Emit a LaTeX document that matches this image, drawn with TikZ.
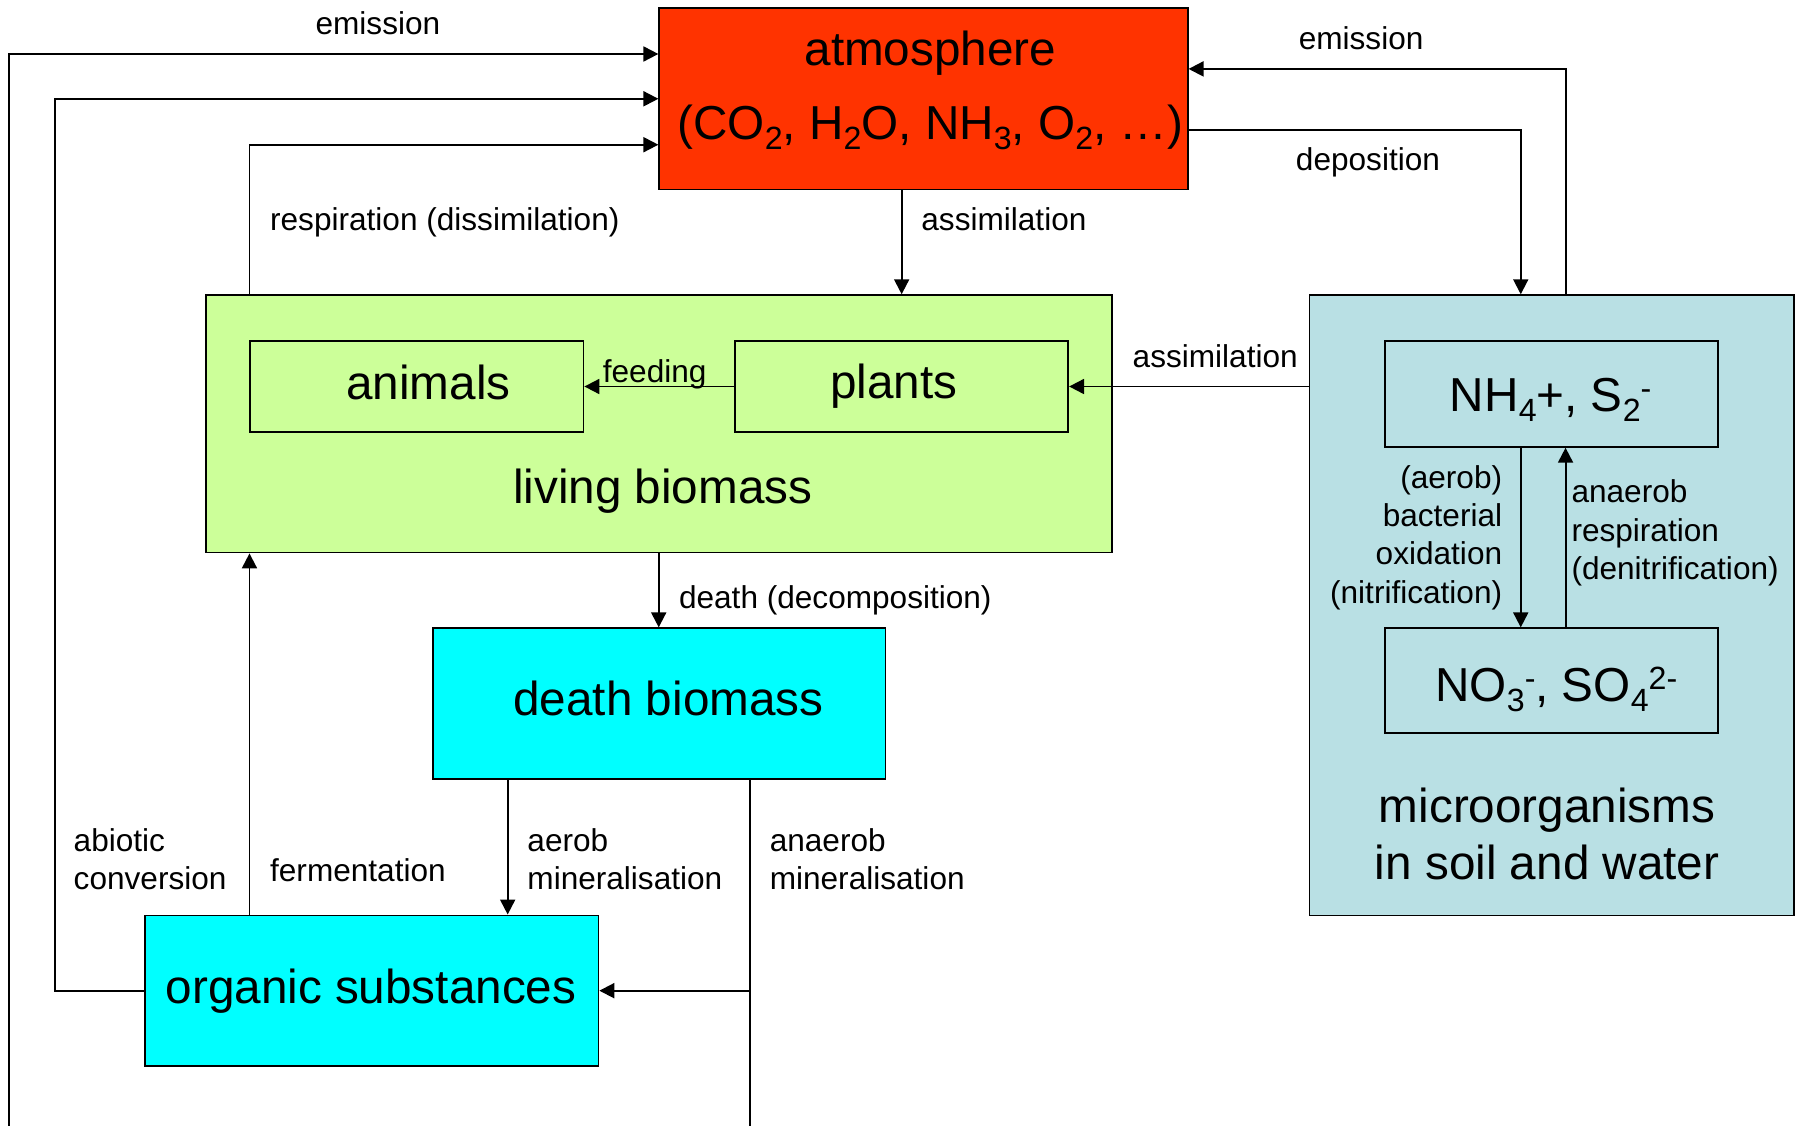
\documentclass[tikz,border=0pt]{standalone}
\usepackage{fontspec}
\setmainfont{Liberation Sans}
\usetikzlibrary{arrows.meta}
\definecolor{atm}{RGB}{255,51,0}
\definecolor{liv}{RGB}{204,255,153}
\definecolor{mic}{RGB}{185,224,228}
\definecolor{cy}{RGB}{0,255,255}
\newcommand{\sbs}[1]{\raisebox{-0.21em}{\fontsize{28}{28}\selectfont #1}}
\newcommand{\sps}[1]{\raisebox{0.25em}{\fontsize{28}{28}\selectfont #1}}
\tikzset{
  box/.style={draw=black, line width=1.6pt, inner sep=0pt, anchor=center},
  conn/.style={line width=1.7pt, -{Triangle[length=13pt,width=13pt]}},
  plain/.style={line width=1.7pt},
  big/.style={font=\fontsize{41.5}{50}\selectfont, inner sep=0pt},
  small/.style={font=\fontsize{27.5}{33.5}\selectfont, inner sep=0pt},
}
\begin{document}
\begin{tikzpicture}[x=1pt,y=-1pt]
\useasboundingbox (0,0) rectangle (1568,980);
% boxes
\node[box, fill=atm, minimum width=460, minimum height=158] (atm) at (804,86) {};
\node[box, fill=liv, minimum width=789, minimum height=224] (liv) at (573.5,369) {};
\node[box, fill=liv, minimum width=290, minimum height=79] (ani) at (363,336.5) {};
\node[box, fill=liv, minimum width=290, minimum height=79] (pla) at (785,336.5) {};
\node[box, fill=mic, minimum width=422, minimum height=540] (mic) at (1351,527) {};
\node[box, fill=mic, minimum width=290, minimum height=92] (nh) at (1351,343) {};
\node[box, fill=mic, minimum width=290, minimum height=91] (no) at (1351,592.5) {};
\node[box, fill=cy, minimum width=394, minimum height=131] (dea) at (574,612.5) {};
\node[box, fill=cy, minimum width=395, minimum height=131] (org) at (323.5,862.5) {};
% box texts
\node[big] (atmT1) at (810,46) {atmosphere};
\node[big] (atmT2) at (810,111) {(CO\sbs{2}, H\sbs{2}O, NH\sbs{3}, O\sbs{2}, \dots)};
\node[big] (aniT) at (373,333) {animals};
\node[big] (plaT) at (778,336) {plants};
\node[big] (livT) at (577,428) {living biomass};
\node[big] (nhT) at (1350,348) {NH\sbs{4}+, S\sbs{2}\sps{-}};
\node[big] (noT) at (1355,600) {NO\sbs{3}\sps{-}, SO\sbs{4}\sps{2-}};
\node[big, align=center, font=\fontsize{41.5}{50}\selectfont] (micT) at (1347,726) {microorganisms\\in soil and water};
\node[big] (deaT) at (582,608) {death biomass};
\node[big] (orgT) at (323,863) {organic substances};
% connection points
\coordinate (eo) at (8,985);
\coordinate (xb) at (48,500);
\coordinate (ab) at (653,985);
\coordinate (r1) at ([xshift=39]liv.north west);
\coordinate (a1) at ([xshift=-19]atm.south);
\coordinate (d1) at ([xshift=-27]mic.north);
\coordinate (e1) at ([xshift=12]mic.north);
\coordinate (n1) at ([xshift=-27]nh.south);
\coordinate (n2) at ([xshift=12]no.north);
\coordinate (m1) at ([xshift=-132]dea.south);
\coordinate (m2) at ([xshift=79]dea.south);
\coordinate (f1) at ([xshift=92]org.north west);
% connectors
\draw[conn] (eo) |- ([yshift=39]atm.west);
\draw[conn] (org.west) -| (xb) |- (atm.west);
\draw[conn] (r1) |- ([yshift=-40]atm.west);
\draw[conn] (a1) -- (a1 |- liv.north);
\draw[conn] ([yshift=-27]atm.east) -| (d1);
\draw[conn] (e1) |- ([yshift=26]atm.east);
\draw[conn] (pla.west) -- (ani.east);
\draw[conn] (mic.west |- pla.east) -- (pla.east);
\draw[conn] (n1) -- (n1 |- no.north);
\draw[conn] (n2) -- (n2 |- nh.south);
\draw[conn] (liv.south) -- (liv.south |- dea.north);
\draw[conn] (m1) -- (m1 |- org.north);
\draw[plain] (m2) -- (ab);
\draw[conn] (ab |- org.east) -- (org.east);
\draw[conn] (f1) -- (f1 |- liv.south);
% labels
\node[small] (lEm1) at (329,20) {emission};
\node[small] (lEm2) at (1185,33) {emission};
\node[small] (lDep) at (1191,141) {deposition};
\node[small, anchor=west] (lRes) at (235,194) {respiration (dissimilation)};
\node[small, anchor=west] (lAs1) at (802,191) {assimilation};
\node[small] (lAs2) at (1058,310) {assimilation};
\node[small] (lFee) at (570,326) {feeding};
\node[small, anchor=west] (lDea) at (591,523) {death (decomposition)};
\node[small, anchor=west, align=left] (lAer) at (459,748) {aerob\\mineralisation};
\node[small, anchor=west, align=left] (lAna) at (670,748) {anaerob\\mineralisation};
\node[small, anchor=west] (lFer) at (235,758) {fermentation};
\node[small, anchor=west, align=left] (lAbi) at (64,748) {abiotic\\conversion};
\node[small, anchor=east, align=right] (lBac) at (1308,468) {(aerob)\\bacterial\\oxidation\\(nitrification)};
\node[small, anchor=west, align=left] (lAnr) at (1368,464) {anaerob\\respiration\\(denitrification)};
\end{tikzpicture}
\end{document}
